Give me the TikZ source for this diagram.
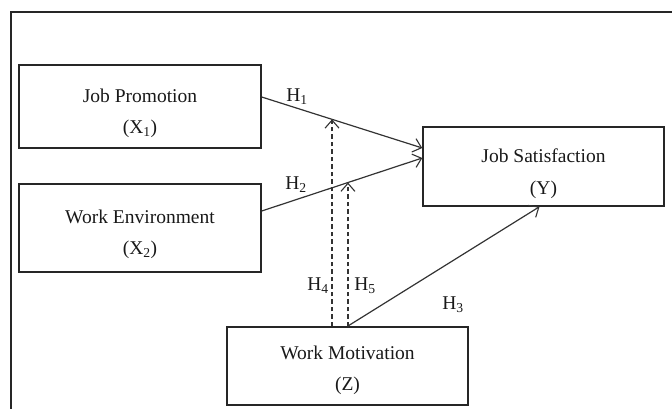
\documentclass[tikz,border=0pt]{standalone}
\usepackage{fontspec}
\setmainfont{Liberation Serif}
\usetikzlibrary{arrows.meta,calc}
\begin{document}
\begin{tikzpicture}[x=1pt,y=-1pt,
  box/.style={draw=black!85, line width=1.4pt, minimum width=242pt, minimum height=83pt, inner sep=0pt},
  txt/.style={font=\fontsize{19.5}{22}\selectfont, inner sep=0pt, text=black!90},
  arr/.style={draw=black!80, line width=1.2pt, -{Straight Barb[length=8pt,width=14pt,line width=1.1pt]}},
  dasharr/.style={arr, dash pattern=on 4.5pt off 3pt},
  frame/.style={draw=black!85, line width=1.5pt}]
\useasboundingbox (0,0) rectangle (672,409);
\draw[frame] (11,409) -- (11,12) -- (672,12);
% boxes
\node[box] (jp) at (140,106.5) {};
\node[box, minimum height=88pt] (we) at (140,228) {};
\node[box, minimum width=241pt, minimum height=79pt] (js) at (543.5,166.5) {};
\node[box, minimum width=241pt, minimum height=78pt] (wm) at (347.5,366) {};
% texts
\node[txt] (jpt) at (140,96) {Job Promotion};
\node[txt] (jpx) at (140,129) {(X\textsubscript{1})};
\node[txt] (wet) at (140,217) {Work Environment};
\node[txt] (wex) at (140,250) {(X\textsubscript{2})};
\node[txt] (jst) at (543.5,156) {Job Satisfaction};
\node[txt] (jsy) at (543.5,190) {(Y)};
\node[txt] (wmt) at (347.5,353) {Work Motivation};
\node[txt] (wmz) at (347.5,386) {(Z)};
% arrows
\draw[arr] ([yshift=9.5pt]jp.east) -- coordinate[pos=0.438] (m1) ([yshift=18.5pt]js.west);
\draw[arr] ([yshift=17pt]we.east) -- coordinate[pos=0.537] (m2) ([yshift=8.5pt]js.west);
\draw[arr] (wm.north) -- ([xshift=-4pt]js.south);
\draw[dasharr] (wm.north -| m1) -- (m1);
\draw[dasharr] (wm.north -| m2) -- (m2);
% labels
\node[txt] (h1) at (297,97) {H\textsubscript{1}};
\node[txt] (h2) at (296,185) {H\textsubscript{2}};
\node[txt] (h4) at (318,286) {H\textsubscript{4}};
\node[txt] (h5) at (365,286) {H\textsubscript{5}};
\node[txt] (h3) at (453,305) {H\textsubscript{3}};
\end{tikzpicture}
\end{document}
